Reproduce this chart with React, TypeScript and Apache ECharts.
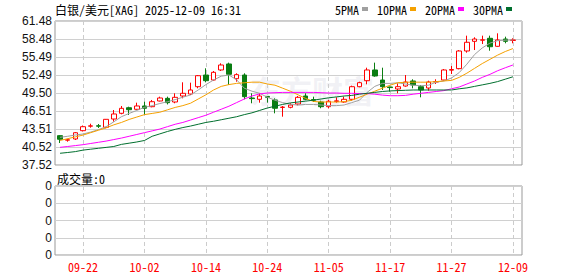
import { useEffect, useRef } from "react";
import * as echarts from "echarts";

const dates = [
  "09-17", "09-18", "09-19", "09-22", "09-23", "09-24", "09-25", "09-26", "09-29", "09-30",
  "10-01", "10-02", "10-03", "10-06", "10-07", "10-08", "10-09", "10-10", "10-13", "10-14",
  "10-15", "10-16", "10-17", "10-20", "10-21", "10-22", "10-23", "10-24", "10-27", "10-28",
  "10-29", "10-30", "10-31", "11-03", "11-04", "11-05", "11-06", "11-07", "11-10", "11-11",
  "11-12", "11-13", "11-14", "11-17", "11-18", "11-19", "11-20", "11-21", "11-24", "11-25",
  "11-26", "11-27", "11-28", "12-01", "12-02", "12-03", "12-04", "12-05", "12-08", "12-09",
];

const opens = [
  42.4, 41.65, 41.85, 43.23, 43.98, 44.05, 43.79, 45.17, 46.12, 47.05,
  46.79, 47.34, 47.22, 48.17, 48.61, 48.0, 49.0, 49.33, 50.55, 52.49,
  51.66, 53.33, 54.33, 51.88, 52.49, 48.67, 48.45, 48.93, 48.34, 47.1,
  47.12, 47.67, 49.0, 48.4, 48.0, 47.22, 48.1, 48.0, 48.45, 50.55,
  51.55, 53.33, 51.66, 50.5, 50.17, 50.66, 51.5, 50.55, 50.33, 51.33,
  51.66, 53.3, 53.55, 56.49, 58.1, 58.28, 58.6, 57.27, 58.48, 58.25,
];
const closes = [
  41.8, 41.72, 42.89, 43.89, 44.03, 43.98, 45.12, 46.01, 46.95, 46.72,
  47.34, 46.96, 48.05, 48.67, 47.89, 48.78, 49.45, 50.0, 52.38, 51.55,
  52.94, 54.16, 52.61, 52.55, 48.89, 48.56, 49.0, 48.78, 46.96, 47.15,
  47.5, 48.78, 48.45, 48.3, 47.22, 48.12, 48.2, 48.45, 50.55, 51.22,
  53.33, 52.33, 50.55, 50.4, 50.55, 51.33, 50.83, 50.0, 51.33, 51.4,
  53.33, 53.4, 56.49, 57.94, 58.48, 58.35, 57.2, 58.32, 58.1, 58.32,
];
const lows = [
  41.18, 41.4, 41.68, 43.1, 43.73, 43.68, 43.63, 44.73, 45.95, 45.84,
  46.72, 45.89, 47.12, 48.1, 47.6, 47.79, 48.61, 49.17, 50.28, 51.28,
  51.55, 53.16, 50.83, 51.38, 48.45, 47.79, 47.89, 47.89, 46.12, 45.56,
  46.95, 47.45, 48.3, 48.0, 46.96, 46.96, 47.89, 47.89, 48.22, 50.45,
  50.95, 52.21, 50.0, 49.72, 49.45, 50.55, 50.28, 48.78, 49.88, 51.0,
  51.55, 52.66, 53.44, 56.21, 56.65, 57.65, 56.54, 57.2, 57.77, 57.77,
];
const highs = [
  42.5, 41.9, 43.0, 44.09, 44.39, 44.34, 45.17, 46.67, 47.34, 47.22,
  47.89, 48.05, 48.34, 48.89, 48.89, 49.45, 51.28, 51.22, 52.49, 53.61,
  53.16, 54.44, 54.55, 52.78, 52.78, 49.45, 49.45, 49.0, 48.61, 47.34,
  47.79, 49.0, 49.45, 48.89, 48.22, 48.34, 48.78, 48.89, 50.72, 51.38,
  53.71, 54.55, 53.71, 50.55, 51.11, 52.49, 51.78, 50.83, 51.55, 51.78,
  53.49, 53.99, 56.65, 59.04, 58.77, 59.04, 59.04, 59.43, 58.87, 58.6,
];

const ma5 = [
  42.13, 42.3, 42.51, 42.68, 43.0, 43.4, 43.89, 44.7, 45.56, 46.1,
  46.6, 47.12, 47.4, 47.75, 48.05, 48.4, 48.8, 49.17, 50.0, 50.9,
  51.66, 52.3, 52.49, 51.7, 50.3, 49.8, 49.45, 48.8, 48.3, 47.9,
  47.6, 47.5, 47.6, 47.6, 47.5, 47.4, 47.4, 47.5, 47.9, 48.3,
  49.6, 50.6, 51.1, 51.1, 51.2, 51.0, 50.8, 50.7, 50.8, 51.3,
  51.5, 52.0, 52.9, 54.3, 55.9, 57.0, 57.8, 58.2, 58.3, 58.32,
];
const ma10 = [
  41.6, 41.9, 42.2, 42.5, 42.9, 43.3, 43.7, 44.2, 44.6, 45.1,
  45.5, 45.9, 46.1, 46.3, 46.7, 47.1, 47.4, 47.8, 48.5, 49.2,
  50.0, 50.6, 50.9, 51.1, 51.2, 51.3, 51.3, 51.0, 50.8, 50.3,
  49.8, 49.2, 48.6, 48.1, 48.0, 48.0, 48.0, 48.05, 48.3, 48.8,
  49.3, 49.8, 50.3, 50.8, 51.2, 51.3, 51.3, 51.3, 51.3, 51.4,
  51.5, 51.6, 52.1, 52.8, 53.6, 54.4, 55.1, 55.8, 56.4, 56.9,
];
const ma20 = [
  40.46, 40.6, 40.75, 40.9, 41.1, 41.3, 41.5, 41.75, 42.0, 42.3,
  42.6, 42.9, 43.2, 43.5, 43.9, 44.3, 44.6, 45.0, 45.4, 45.8,
  46.3, 46.8, 47.3, 47.9, 48.5, 49.0, 49.35, 49.5, 49.55, 49.6,
  49.6, 49.6, 49.6, 49.6, 49.55, 49.5, 49.5, 49.45, 49.45, 49.4,
  49.4, 49.3, 49.15, 49.05, 49.05, 49.1, 49.3, 49.45, 49.6, 49.75,
  49.9, 50.2, 50.5, 51.0, 51.5, 52.1, 52.6, 53.2, 53.7, 54.16,
];
const ma30 = [
  39.47, 39.6, 39.75, 40.0, 40.15, 40.3, 40.45, 40.6, 40.95, 41.15,
  41.35, 41.6, 42.3, 42.7, 43.1, 43.45, 43.75, 44.0, 44.3, 44.6,
  44.8, 45.05, 45.3, 45.55, 45.9, 46.2, 46.6, 47.0, 47.3, 47.6,
  47.85, 48.0, 48.15, 48.3, 48.5, 48.7, 48.85, 49.0, 49.1, 49.3,
  49.45, 49.6, 49.75, 49.85, 49.9, 49.95, 50.0, 50.0, 50.0, 50.0,
  50.0, 50.0, 50.2, 50.35, 50.6, 50.85, 51.1, 51.4, 51.8, 52.2,
];
const volumes = new Array(60).fill(0);

const priceTicks = ["37.52", "40.52", "43.51", "46.51", "49.50", "52.49", "55.49", "58.48", "61.48"];
const volumeTicks = ["0", "0", "0", "0", "0"];
const priceMin = 37.52;
const priceMax = 61.48;

const maNames = ["5PMA", "10PMA", "20PMA", "30PMA"];
const maColors = ["#a0a0a0", "#f5a100", "#ff00ff", "#006f2e"];

const MONO = "'Noto Sans Mono CJK SC', 'Noto Sans CJK SC', monospace";

export default function App() {
  const ref = useRef<HTMLDivElement>(null);
  useEffect(() => {
    if (!ref.current) return;
    const chart = echarts.init(ref.current, null, { renderer: "svg" });
    const labelShown = (i: number) => (i - 3) % 8 === 0;
    const candleData = dates.map((_, i) => [opens[i], closes[i], lows[i], highs[i]]);
    const maData = [ma5, ma10, ma20, ma30];
    const frameGrid = { show: true, borderColor: "#999", borderWidth: 1, backgroundColor: "transparent" };
    chart.setOption({
      animation: false,
      title: [
        {
          text: "白银/美元[XAG] 2025-12-09 16:31",
          left: 55,
          top: 3,
          padding: 0,
          textStyle: { fontSize: 12, fontWeight: "normal", color: "#000", fontFamily: MONO },
        },
        {
          text: "成交量:0",
          left: 57,
          top: 172,
          padding: 0,
          textStyle: { fontSize: 12, fontWeight: "normal", color: "#000", fontFamily: MONO },
        },
      ],
      legend: {
        data: maNames.map((n, i) => ({ name: n, itemStyle: { color: maColors[i] } })),
        right: 66,
        top: 3,
        padding: 0,
        align: "right",
        icon: "rect",
        itemWidth: 6,
        itemHeight: 4,
        itemGap: 9,
        textStyle: { fontSize: 12, color: "#000", fontFamily: MONO, padding: [0, -2, 0, 0] },
      },
      graphic: [
        {
          type: "text",
          left: 250,
          top: 74,
          z: -1,
          silent: true,
          style: {
            text: "东方财富",
            fontSize: 31,
            fontWeight: "bold",
            fontFamily: "'Noto Sans CJK SC'",
            fill: "rgba(200,200,215,0.25)",
          },
        },
      ],
      grid: [
        { left: 55, top: 21, width: 467, height: 144, ...frameGrid },
        { left: 56.2, top: 21, width: 460.6, height: 144 },
        { left: 55, top: 186, width: 467, height: 69, ...frameGrid },
        { left: 56.2, top: 186, width: 460.6, height: 69 },
      ],
      xAxis: [
        { gridIndex: 0, type: "value", min: 0, max: 1, show: false },
        {
          gridIndex: 1,
          type: "category",
          data: dates,
          boundaryGap: true,
          axisLine: { show: false },
          axisTick: { show: false },
          axisLabel: { show: false },
          splitLine: {
            show: true,
            interval: (i: number) => labelShown(i),
            alignWithLabel: true,
            lineStyle: { color: "#ccc", type: [4, 3], width: 1 },
          },
        },
        { gridIndex: 2, type: "value", min: 0, max: 1, show: false },
        {
          gridIndex: 3,
          type: "category",
          data: dates,
          boundaryGap: true,
          axisLine: { show: false },
          axisTick: { show: false },
          axisLabel: {
            show: true,
            interval: (i: number) => labelShown(i),
            color: "#ff0000",
            fontSize: 12,
            fontFamily: MONO,
            margin: 5,
          },
          splitLine: {
            show: true,
            interval: (i: number) => labelShown(i),
            alignWithLabel: true,
            lineStyle: { color: "#ccc", type: [4, 3], width: 1 },
          },
        },
      ],
      yAxis: [
        {
          gridIndex: 0,
          type: "value",
          min: 0,
          max: priceTicks.length - 1,
          interval: 1,
          axisLine: { show: false },
          axisTick: { show: false },
          axisLabel: {
            formatter: (v: number) => priceTicks[Math.round(v)],
            color: "#111",
            fontSize: 12,
            fontFamily: "'Liberation Sans', Arial, sans-serif",
            margin: 3,
          },
          splitLine: { show: true, lineStyle: { color: "#d0d0d0", width: 1 } },
        },
        { gridIndex: 1, type: "value", min: priceMin, max: priceMax, show: false },
        {
          gridIndex: 2,
          type: "value",
          min: 0,
          max: volumeTicks.length - 1,
          interval: 1,
          axisLine: { show: false },
          axisTick: { show: false },
          axisLabel: {
            formatter: (v: number) => volumeTicks[Math.round(v)],
            color: "#111",
            fontSize: 12,
            fontFamily: "'Liberation Sans', Arial, sans-serif",
            margin: 3,
          },
          splitLine: { show: true, lineStyle: { color: "#d0d0d0", width: 1 } },
        },
        { gridIndex: 3, type: "value", min: 0, max: 1, show: false },
      ],
      series: [
        {
          type: "candlestick",
          name: "K",
          xAxisIndex: 1,
          yAxisIndex: 1,
          data: candleData,
          barWidth: 5,
          itemStyle: {
            color: "#ffffff",
            color0: "#0a7d12",
            borderColor: "#ff0000",
            borderColor0: "#0a7d12",
            borderWidth: 1,
          },
        },
        ...maNames.map((name, k) => ({
          type: "line",
          name,
          xAxisIndex: 1,
          yAxisIndex: 1,
          data: maData[k],
          showSymbol: false,
          symbol: "none",
          smooth: false,
          lineStyle: { color: maColors[k], width: 1 },
          itemStyle: { color: maColors[k] },
          z: 3,
        })),
        {
          type: "bar",
          name: "成交量",
          xAxisIndex: 3,
          yAxisIndex: 3,
          data: volumes,
          barWidth: 5,
          itemStyle: { color: "#ff0000" },
        },
      ],
    });
    return () => chart.dispose();
  }, []);
  return (
    <div
      ref={ref}
      style={{ position: "absolute", left: 0, top: 0, width: 578, height: 276, background: "#fff" }}
    />
  );
}
